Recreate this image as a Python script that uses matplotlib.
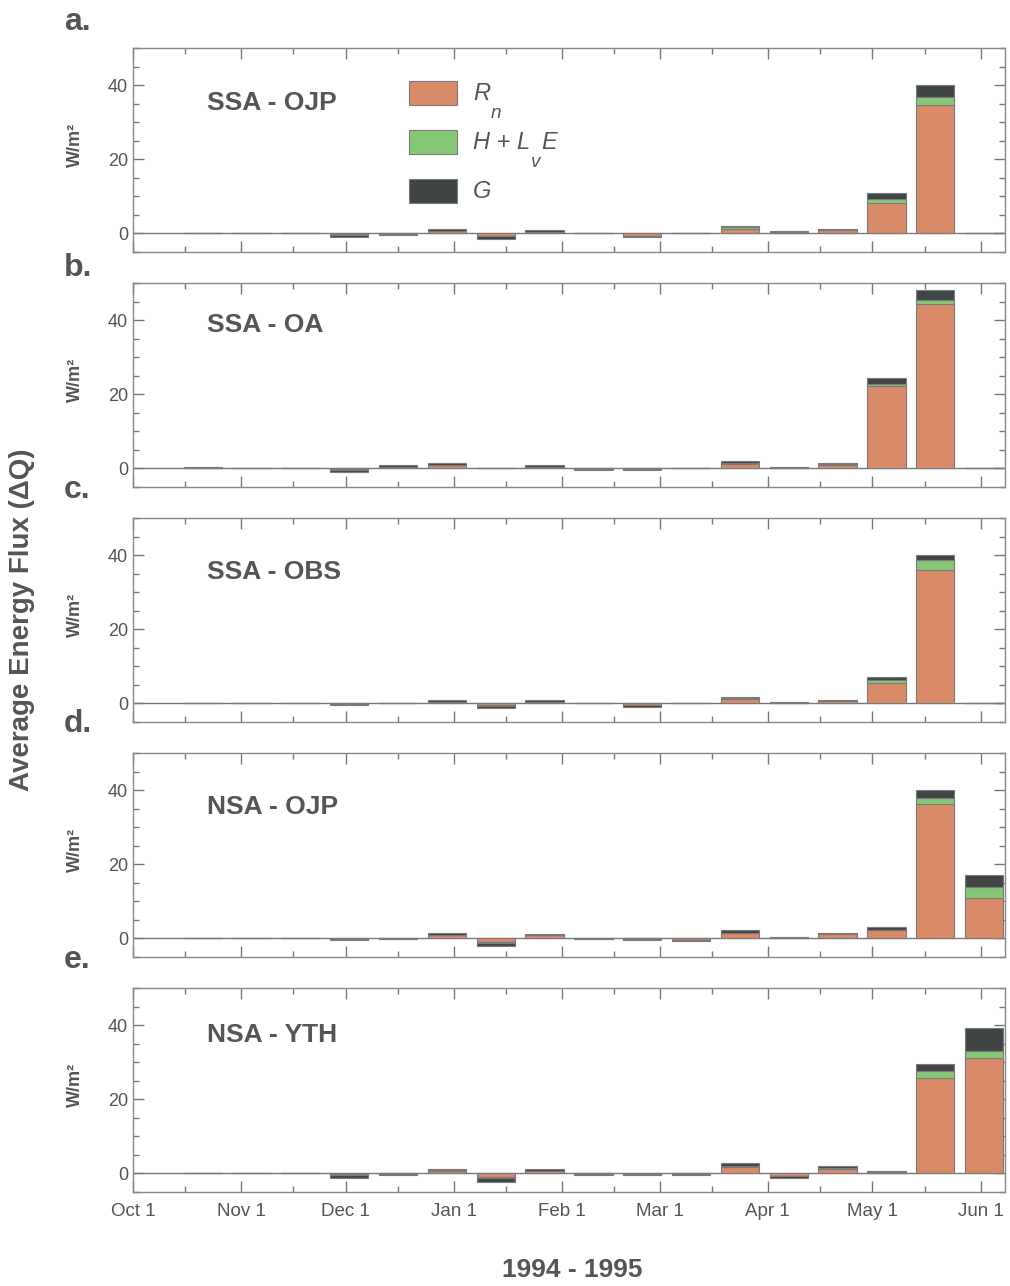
import datetime as dt
import numpy as np
import matplotlib
matplotlib.use("Agg")
import matplotlib.pyplot as plt
import matplotlib.dates as mdates
from matplotlib.transforms import offset_copy

plt.rcParams['font.family'] = ['Liberation Sans', 'DejaVu Sans']

# biweekly periods (centre dates)
periods = ["1994-10-21", "1994-11-04", "1994-11-18", "1994-12-02", "1994-12-16",
           "1994-12-30", "1995-01-13", "1995-01-27", "1995-02-10", "1995-02-24",
           "1995-03-10", "1995-03-24", "1995-04-07", "1995-04-21", "1995-05-05",
           "1995-05-19", "1995-06-02"]

sites = ["SSA - OJP", "SSA - OA", "SSA - OBS", "NSA - OJP", "NSA - YTH"]
panel_tags = ["a.", "b.", "c.", "d.", "e."]

# Rn, H+LvE, G for each site (W/m2)
rn_ssa_ojp = [0, 0, 0, -0.2, -0.1, 0.6, -0.6, 0.4, 0, -0.6, 0, 1.3, 0.2, 0.8, 8.2, 34.6, 0]
hle_ssa_ojp = [0, 0, 0, -0.1, 0, 0.1, -0.1, 0.1, 0, -0.1, 0, 0.4, 0.1, 0.1, 1.0, 2.3, 0]
g_ssa_ojp = [0, 0, 0, -0.7, -0.2, 0.4, -0.7, 0.5, 0, -0.3, 0, 0.3, 0.3, 0.3, 1.8, 3.1, 0]

rn_ssa_oa = [0.1, 0, 0, -0.2, 0.3, 0.8, 0, 0.3, -0.1, -0.1, 0, 1.2, 0.1, 1.0, 22.3, 44.3, 0]
hle_ssa_oa = [0, 0, 0, -0.1, 0.1, 0.1, 0, 0.1, 0, 0, 0, 0.2, 0.1, 0.2, 0.6, 1.0, 0]
g_ssa_oa = [0.2, 0, 0, -0.7, 0.5, 0.5, 0, 0.5, -0.2, -0.2, 0, 0.5, 0.3, 0.4, 1.4, 2.8, 0]

rn_ssa_obs = [0.05, 0, 0, -0.1, 0, 0.3, -0.5, 0.3, 0, -0.3, 0, 1.1, 0.1, 0.6, 5.4, 35.9, 0]
hle_ssa_obs = [0, 0, 0, -0.1, 0, 0.1, -0.1, 0.1, 0, -0.1, 0, 0.3, 0.1, 0.1, 0.8, 2.7, 0]
g_ssa_obs = [0.15, 0, 0, -0.3, 0, 0.5, -0.5, 0.4, 0, -0.5, 0, 0.4, 0.1, 0.3, 0.8, 1.4, 0]

rn_nsa_ojp = [0, 0, 0, -0.1, -0.05, 0.8, -1.0, 0.8, -0.05, -0.1, -0.4, 1.4, 0.1, 1.1, 2.2, 36.2, 11.0]
hle_nsa_ojp = [0, 0, 0, -0.1, 0, 0.1, -0.2, 0.1, 0, 0, -0.1, 0.2, 0.05, 0.1, 0.2, 1.6, 3.0]
g_nsa_ojp = [0, 0, 0, -0.3, -0.15, 0.5, -0.8, 0.4, -0.15, -0.2, -0.3, 0.6, 0.15, 0.4, 0.7, 2.2, 3.0]

rn_nsa_yth = [0, 0, 0, -0.2, -0.1, 0.7, -1.0, 0.6, -0.1, -0.2, -0.1, 1.8, -0.6, 1.3, 0.2, 25.7, 31.1]
hle_nsa_yth = [0, 0, 0, -0.1, 0, 0.1, -0.2, 0.1, 0, -0.05, 0, 0.3, -0.1, 0.2, 0.1, 1.9, 1.9]
g_nsa_yth = [0, 0, 0, -0.8, -0.2, 0.5, -1.0, 0.6, -0.2, -0.25, -0.2, 0.6, -0.6, 0.5, 0.4, 1.9, 6.2]

site_data = [
    (rn_ssa_ojp, hle_ssa_ojp, g_ssa_ojp),
    (rn_ssa_oa, hle_ssa_oa, g_ssa_oa),
    (rn_ssa_obs, hle_ssa_obs, g_ssa_obs),
    (rn_nsa_ojp, hle_nsa_ojp, g_nsa_ojp),
    (rn_nsa_yth, hle_nsa_yth, g_nsa_yth),
]

month_ticks = ["1994-10-01", "1994-11-01", "1994-12-01", "1995-01-01", "1995-02-01",
               "1995-03-01", "1995-04-01", "1995-05-01", "1995-06-01"]
month_labels = ["Oct 1", "Nov 1", "Dec 1", "Jan 1", "Feb 1", "Mar 1", "Apr 1", "May 1", "Jun 1"]

colors = ["#D98A66", "#86C777", "#404646"]
txt = "#555555"
edge = "#7a7a7a"

def to_num(s):
    return mdates.date2num(dt.datetime.strptime(s, "%Y-%m-%d"))

x = np.array([to_num(p) for p in periods])
x_lo, x_hi = to_num("1994-10-01"), to_num("1995-06-08")
major = [to_num(m) for m in month_ticks]
minor = [m + 15 for m in major if m + 15 < x_hi]

fig = plt.figure(figsize=(10.1, 12.86), dpi=100)
W, H = 1010.0, 1286.0
left, right = 133 / W, 1005 / W
label_off = [55, 42, 54, 54, 47]
tag_y = [22, 268, 490, 724, 960]


def sub_text(ax, xd, yd, parts, size):
    # draws a run of text pieces; pieces flagged True are dropped subscripts
    fig.canvas.draw()
    r = fig.canvas.get_renderer()
    trans = ax.transData
    dx = 0.0
    for s, is_sub in parts:
        if is_sub:
            t = ax.text(xd, yd, s, fontsize=size * 0.8, style="italic", color=txt,
                        va="center", ha="left",
                        transform=offset_copy(trans, fig=fig, x=dx, y=-20, units="dots"))
        else:
            t = ax.text(xd, yd, s, fontsize=size, style="italic", color=txt,
                        va="center", ha="left",
                        transform=offset_copy(trans, fig=fig, x=dx, y=0, units="dots"))
        dx += t.get_window_extent(renderer=r).width + 1


for i, (rows, site, tag) in enumerate(zip(site_data, sites, panel_tags)):
    top = 48 + 235 * i
    bottom = top + 204
    ax = fig.add_axes([left, 1 - bottom / H, right - left, 204 / H])

    pos = np.zeros(len(x))
    neg = np.zeros(len(x))
    for vals, c in zip(rows, colors):
        v = np.array(vals, dtype=float)
        base = np.where(v >= 0, pos, neg)
        ax.bar(x, v, width=11, bottom=base, color=c, edgecolor=edge,
               linewidth=0.8, zorder=3)
        pos = pos + np.where(v >= 0, v, 0)
        neg = neg + np.where(v < 0, v, 0)

    ax.axhline(0, color="#777777", lw=1.0, zorder=2)
    ax.set_yticks([0, 20, 40])
    ax.set_yticks(np.arange(-5, 51, 5), minor=True)
    ax.set_xticks(major)
    ax.set_xticks(minor, minor=True)
    ax.set_xlim(x_lo, x_hi)
    ax.set_ylim(-5, 50)
    if i == 4:
        ax.set_xticklabels(month_labels)
    else:
        ax.set_xticklabels([])
    ax.tick_params(which="both", direction="in", top=True, right=True,
                   colors="#777777", labelcolor=txt, labelsize=13)
    ax.tick_params(which="major", length=8, width=1)
    ax.tick_params(which="minor", length=4, width=1)
    ax.tick_params(axis="x", pad=8, labelsize=13.5)
    for s in ax.spines.values():
        s.set_color("#888888")
        s.set_linewidth(1.0)

    ax.text(0.085, 1 - label_off[i] / 204, site, transform=ax.transAxes, fontsize=19,
            fontweight="bold", color=txt, va="center", ha="left")
    fig.text(64 / W, 1 - tag_y[i] / H, tag, fontsize=23, fontweight="bold",
             color=txt, va="center", ha="left")
    fig.text(75 / W, 1 - (top + 97) / H, "W/m²", rotation=90, fontsize=13,
             fontweight="bold", color=txt, va="center", ha="center")

    if i == 0:
        lx0, lx1 = to_num("1994-12-19"), to_num("1995-01-02")
        legend_parts = [[("R", False), ("n", True)],
                        [("H + L", False), ("v", True), ("E", False)],
                        [("G", False)]]
        for k, (c, parts) in enumerate(zip(colors, legend_parts)):
            yc = 37.8 - 13.2 * k
            ax.bar(lx0, 6.4, width=lx1 - lx0, bottom=yc - 3.2, align="edge",
                   color=c, edgecolor=edge, linewidth=0.8, zorder=3)
            sub_text(ax, lx1 + 4.5, yc, parts, 17)

fig.text(22 / W, 1 - 620 / H, "Average Energy Flux (ΔQ)", rotation=90, fontsize=20,
         fontweight="bold", color=txt, va="center", ha="center")
fig.text(572 / W, 1 - 1270 / H, "1994 - 1995", fontsize=19, fontweight="bold",
         color=txt, va="center", ha="center")

fig.savefig("out.png", dpi=100)
